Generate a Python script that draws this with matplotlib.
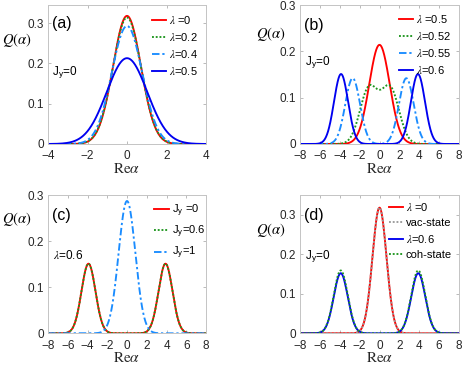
import matplotlib
matplotlib.use('Agg')
import matplotlib.pyplot as plt
import numpy as np

plt.rcParams['font.family'] = ['Liberation Sans', 'DejaVu Sans']
plt.rcParams['mathtext.fontset'] = 'stix'

# Q-function cuts, each curve: lobe centre (+/-c), peak height, width
a_labels = [r'$\lambda$ =0', r'$\lambda$=0.2', r'$\lambda$=0.4', r'$\lambda$=0.5']
a_center = [0.0, 0.0, 0.0, 0.0]
a_peak = [0.318, 0.314, 0.293, 0.213]
a_width = [1.0, 1.01, 1.086, 1.45]

b_labels = [r'$\lambda$ =0.5', r'$\lambda$=0.52', r'$\lambda$=0.55', r'$\lambda$=0.6']
b_center = [0.0, 1.07, 2.7, 3.87]
b_peak = [0.214, 0.119, 0.142, 0.151]
b_width = [1.45, 1.27, 1.05, 1.0]

c_labels = [r'J$_{\mathregular{y}}$ =0', r'J$_{\mathregular{y}}$=0.6', r'J$_{\mathregular{y}}$=1']
c_center = [3.9, 3.9, 0.0]
c_peak = [0.151, 0.151, 0.287]
c_width = [1.0, 1.0, 1.2]

d_labels = [r'$\lambda$ =0', 'vac-state', r'$\lambda$=0.6', 'coh-state']
d_center = [0.0, 0.0, 3.9, 3.9]
d_peak = [0.318, 0.318, 0.152, 0.159]
d_width = [1.0, 1.0, 1.0, 1.0]

RED = '#ff0000'
GREEN = '#1e961e'
LBLUE = '#1a8cff'
BLUE = '#0000f0'
GRAY = '#9a9a9a'
SOLID = '-'
DOT = (0, (1, 1))
DASHDOT = (0, (4, 1.5, 1.2, 1.5))

a_styles = [(RED, SOLID), (GREEN, DOT), (LBLUE, DASHDOT), (BLUE, SOLID)]
b_styles = a_styles
c_styles = [(RED, SOLID), (GREEN, DOT), (LBLUE, DASHDOT)]
d_styles = [(RED, SOLID), (GRAY, DOT), (BLUE, SOLID), (GREEN, DOT)]


def qcut(x, c, peak, s):
    y = peak * np.exp(-(x - c) ** 2 / s ** 2)
    if c > 0:
        y = y + peak * np.exp(-(x + c) ** 2 / s ** 2)
    return y


W, H = 463.0, 369.0
fig = plt.figure(figsize=(4.63, 3.69), dpi=100)


def px_axes(left, top, right, bottom):
    return fig.add_axes([left / W, 1 - bottom / H, (right - left) / W, (bottom - top) / H])


panels = [
    dict(box=(48, 5, 206, 144), xlim=(-4, 4), ylim=(0, 0.345), labels=a_labels, center=a_center,
         peak=a_peak, width=a_width, styles=a_styles, tag='(a)', tagpos=(-3.8, 0.30),
         note=r'J$_{\mathregular{y}}$=0', notepos=(-3.78, 0.176), leg=(0.656, 0.935), qpos=(17, 40)),
    dict(box=(300, 5, 459, 144), xlim=(-8, 8), ylim=(0, 0.3), labels=b_labels, center=b_center,
         peak=b_peak, width=b_width, styles=b_styles, tag='(b)', tagpos=(-7.55, 0.255),
         note=r'J$_{\mathregular{y}}$=0', notepos=(-7.5, 0.176), leg=(0.621, 0.945), qpos=(271, 34)),
    dict(box=(48, 195, 206, 333.3), xlim=(-8, 8), ylim=(0, 0.3), labels=c_labels, center=c_center,
         peak=c_peak, width=c_width, styles=c_styles, tag='(c)', tagpos=(-7.6, 0.256),
         note=r'$\lambda$=0.6', notepos=(-7.52, 0.168), leg=(0.673, 0.945), qpos=(17, 219)),
    dict(box=(300, 195, 459, 333.3), xlim=(-8, 8), ylim=(0, 0.35), labels=d_labels, center=d_center,
         peak=d_peak, width=d_width, styles=d_styles, tag='(d)', tagpos=(-7.55, 0.298),
         note=r'J$_{\mathregular{y}}$=0', notepos=(-7.5, 0.193), leg=(0.558, 0.96), qpos=(271, 230)),
]

for p in panels:
    ax = px_axes(*p['box'])
    x = np.linspace(p['xlim'][0], p['xlim'][1], 1201)
    for lab, c, pk, s, (col, ls) in zip(p['labels'], p['center'], p['peak'], p['width'], p['styles']):
        ax.plot(x, qcut(x, c, pk, s), color=col, linestyle=ls, linewidth=1.35, label=lab)
    ax.set_xlim(*p['xlim'])
    ax.set_ylim(*p['ylim'])
    ax.set_xticks(np.arange(p['xlim'][0], p['xlim'][1] + 1, 2))
    ax.set_yticks([0, 0.1, 0.2, 0.3])
    ax.set_yticklabels(['0', '0.1', '0.2', '0.3'])
    ax.tick_params(direction='in', length=2.5, width=0.6, color='#b0b0b0', labelsize=8.5,
                   labelcolor='#262626', top=True, right=True, pad=3)
    ax.tick_params(axis='x', pad=4.5)
    for sp in ax.spines.values():
        sp.set_color('#c4c4c4')
        sp.set_linewidth(0.7)
    ax.set_xlabel(r'$\mathrm{Re}\alpha$', fontsize=11, labelpad=-0.5, color='#262626')
    ax.text(*p['tagpos'], p['tag'], fontsize=11.5, ha='left', va='center')
    ax.text(*p['notepos'], p['note'], fontsize=8.5, ha='left', va='center')
    fig.text(p['qpos'][0] / W, 1 - p['qpos'][1] / H, r'$Q(\alpha)$', fontsize=10.5,
             ha='center', va='center')
    ax.legend(loc='upper left', bbox_to_anchor=p['leg'], frameon=False, fontsize=8,
              borderpad=0, borderaxespad=0, handlelength=1.3, handletextpad=0.25,
              labelspacing=0.45)

fig.savefig('out.png', dpi=100)
